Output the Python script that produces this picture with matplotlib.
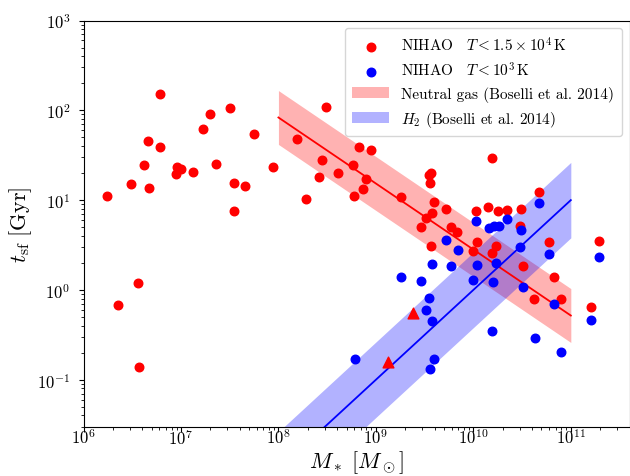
import numpy as np
import matplotlib
matplotlib.use("Agg")
import matplotlib.pyplot as plt

plt.rcParams['font.family'] = 'serif'
plt.rcParams['font.serif'] = ['cmr10', 'DejaVu Serif']
plt.rcParams['mathtext.fontset'] = 'cm'
plt.rcParams['axes.formatter.use_mathtext'] = True

# NIHAO, T < 1.5e4 K (red circles): stellar mass [Msun], t_sf [Gyr]
red_mass = [6.1e6, 2.0e7, 3.2e7, 1.7e7, 5.6e7, 4.6e6, 6.1e6, 4.2e6, 9.1e6, 1.0e7,
            8.9e6, 1.33e7, 2.3e7, 8.8e7, 3.05e6, 4.7e6, 1.75e6, 3.5e7, 4.5e7, 3.5e7,
            3.6e6, 2.24e6, 3.7e6,
            3.1e8, 1.54e8, 6.7e8, 9.0e8, 2.8e8, 5.8e8, 4.1e8, 2.6e8, 8.0e8, 3.7e9,
            3.5e9, 3.6e9, 7.3e8, 6.0e8, 1.9e8, 1.8e9, 3.9e9, 5.2e9, 3.8e9, 3.3e9,
            2.9e9, 5.9e9, 6.8e9,
            1.56e10, 1.07e10, 1.43e10, 1.8e10, 2.2e10, 3.1e10, 4.7e10, 3.0e10, 1.08e10,
            1.7e10, 1.0e10, 1.54e10, 6.0e10, 3.7e9, 3.2e10, 6.8e10, 1.95e11,
            4.2e10, 7.9e10, 1.6e11]
red_tsf = [150, 90, 106, 62, 55, 46, 38.7, 24.8, 23.2, 22.2,
           19.6, 20.4, 25.5, 23.2, 15.0, 13.7, 11.0, 15.7, 14.5, 7.5,
           1.2, 0.68, 0.137,
           109, 48, 39, 35.9, 28, 24.9, 20.2, 17.9, 17.1, 20.1,
           19.1, 15.6, 13.3, 11.2, 10.4, 10.7, 9.6, 8.0, 7.2, 6.3,
           5.0, 5.0, 4.4,
           29.7, 7.6, 8.4, 7.6, 7.8, 8.0, 12.3, 5.1, 3.4,
           3.1, 2.7, 2.6, 3.4, 3.06, 1.83, 1.40, 3.5,
           0.80, 0.79, 0.64]

# NIHAO, T < 1e3 K (blue circles)
blue_mass = [4.7e10, 1.07e10, 2.2e10, 1.44e10, 1.62e10, 1.82e10, 3.1e10, 5.2e9, 6.9e9,
             3.0e10, 6.0e10, 3.8e9, 5.9e9, 1.08e10, 1.7e10, 1.0e10, 1.6e10, 3.2e10,
             1.95e11, 1.8e9, 2.9e9, 3.5e9, 3.3e9, 3.8e9, 1.54e10, 6.1e8, 3.9e9, 3.6e9,
             6.8e10, 4.3e10, 8.0e10, 1.6e11]
blue_tsf = [9.2, 5.9, 6.2, 4.9, 5.2, 5.2, 4.7, 3.6, 2.8,
            3.0, 2.5, 1.96, 1.85, 1.91, 2.0, 1.29, 1.22, 1.07,
            2.35, 1.38, 1.27, 0.82, 0.60, 0.455, 0.35, 0.169, 0.17, 0.132,
            0.70, 0.29, 0.206, 0.46]

# red triangles
tri_mass = [2.4e9, 1.33e9]
tri_tsf = [0.56, 0.159]

# Boselli et al. 2014 relations (log t_sf = a + b*(log M - 8)), half-width in dex
band_logm = [8.0, 11.0]
neutral_a, neutral_b, neutral_w = 1.92, -0.735, 0.30
h2_a, h2_b, h2_w = -2.0, 1.0, 0.42

fig = plt.figure(figsize=(6.3, 4.77), dpi=100)
ax = fig.add_axes([83.5 / 630, 1 - 427.7 / 477, (629.5 - 83.5) / 630, (427.7 - 21.5) / 477])

lm = np.linspace(band_logm[0], band_logm[1], 50)
m = 10 ** lm
lt_n = neutral_a + neutral_b * (lm - 8)
lt_h = h2_a + h2_b * (lm - 8)

ax.fill_between(m, 10 ** (lt_n - neutral_w), 10 ** (lt_n + neutral_w), color='red', alpha=0.3,
                lw=0, label='Neutral gas (Boselli et al. 2014)')
ax.fill_between(m, 10 ** (lt_h - h2_w), 10 ** (lt_h + h2_w), color='blue', alpha=0.3,
                lw=0, label=r'$H_2$ (Boselli et al. 2014)')
ax.plot(m, 10 ** lt_n, color='red', lw=1.3)
ax.plot(m, 10 ** lt_h, color='blue', lw=1.3)

ax.scatter(red_mass, red_tsf, s=38, color='red', zorder=3,
           label=r'NIHAO$\quad T < 1.5\times10^{4}\,\mathrm{K}$')
ax.scatter(blue_mass, blue_tsf, s=38, color='blue', zorder=3,
           label=r'NIHAO$\quad T < 10^{3}\,\mathrm{K}$')
ax.scatter(tri_mass, tri_tsf, s=60, marker='^', color='red', zorder=3)

ax.set_xscale('log')
ax.set_yscale('log')
ax.set_xlim(1e6, 4e11)
ax.set_ylim(3e-2, 1e3)
ax.tick_params(labelsize=12)
ax.tick_params(axis='x', which='major', pad=-3)
ax.tick_params(axis='y', which='major', pad=6)
ax.set_xlabel(r'$M_*\ [M_\odot]$', fontsize=16, labelpad=1)
ax.set_ylabel(r'$t_{\rm sf}\ [\mathrm{Gyr}]$', fontsize=16, labelpad=2)

h, l = ax.get_legend_handles_labels()
order = [2, 3, 0, 1]
ax.legend([h[i] for i in order], [l[i] for i in order], loc='upper right', fontsize=11,
          handlelength=2.4, labelspacing=0.45, borderpad=0.5)

fig.savefig('out.png', dpi=100)
